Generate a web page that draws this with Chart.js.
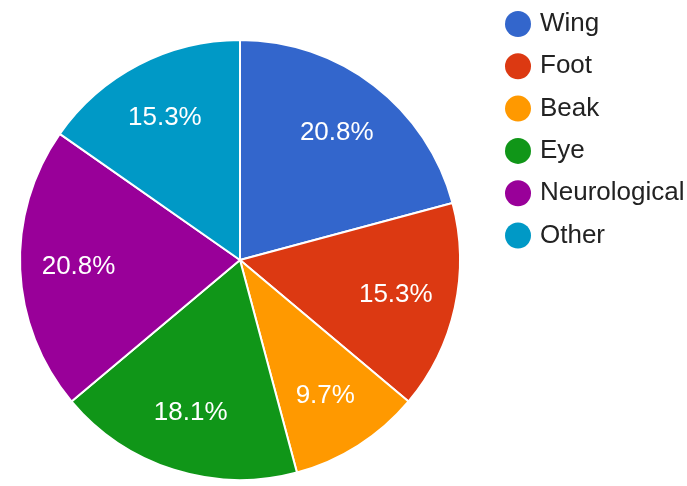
<!DOCTYPE html>
<html>
<head>
<meta charset="utf-8">
<script src="https://cdn.jsdelivr.net/npm/chart.js@4/dist/chart.umd.min.js"></script>
<style>
  html, body { margin: 0; padding: 0; background: #fff; }
  #wrap { width: 687px; height: 486px; }
</style>
</head>
<body>
<div id="wrap"><canvas id="pie" width="687" height="486"></canvas></div>
<script>
const categories = ['Wing', 'Foot', 'Beak', 'Eye', 'Neurological', 'Other'];
const counts = [15, 11, 7, 13, 15, 11];
const colors = ['#3366cc', '#dc3912', '#ff9900', '#109618', '#990099', '#0099c6'];

const FONT = 'Arial, "Liberation Sans", sans-serif';

// percent labels inside the slices
const sliceLabels = {
  id: 'sliceLabels',
  afterDatasetsDraw(chart) {
    const { ctx } = chart;
    const total = counts.reduce((a, b) => a + b, 0);
    chart.getDatasetMeta(0).data.forEach((arc, i) => {
      const mid = (arc.startAngle + arc.endAngle) / 2;
      const r = arc.outerRadius * 0.73;
      const x = arc.x + Math.cos(mid) * r;
      const y = arc.y + Math.sin(mid) * r;
      ctx.save();
      ctx.fillStyle = '#fff';
      ctx.font = `26px ${FONT}`;
      ctx.textAlign = 'center';
      ctx.textBaseline = 'middle';
      ctx.fillText((counts[i] / total * 100).toFixed(1) + '%', x - 1, y);
      ctx.restore();
    });
  },
};

// legend at the right, dots + names
const sideLegend = {
  id: 'sideLegend',
  afterDraw(chart) {
    const { ctx } = chart;
    categories.forEach((name, i) => {
      const y = 24 + i * 42.3;
      ctx.save();
      ctx.fillStyle = colors[i];
      ctx.beginPath();
      ctx.arc(518, y, 13, 0, Math.PI * 2);
      ctx.fill();
      ctx.fillStyle = '#222';
      ctx.font = `26px ${FONT}`;
      ctx.textBaseline = 'middle';
      ctx.fillText(name, 540, y);
      ctx.restore();
    });
  },
};

new Chart(document.getElementById('pie'), {
  type: 'pie',
  data: {
    labels: categories,
    datasets: [{ data: counts, backgroundColor: colors, borderColor: '#fff', borderWidth: 2 }],
  },
  options: {
    responsive: false,
    animation: false,
    layout: { padding: { left: 19, right: 226, top: 39, bottom: 5 } },
    plugins: { legend: { display: false }, tooltip: { enabled: false } },
  },
  plugins: [sliceLabels, sideLegend],
});
</script>
</body>
</html>
